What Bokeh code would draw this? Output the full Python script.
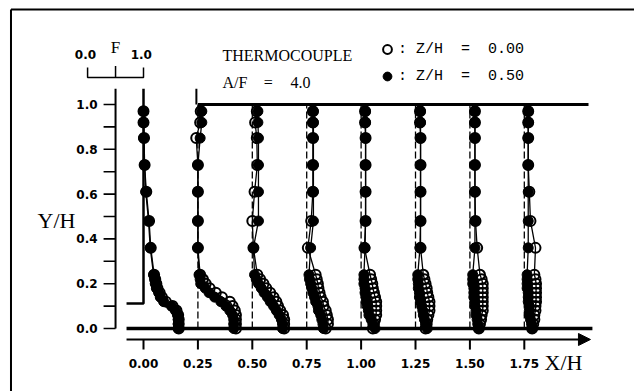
from bokeh.plotting import figure
from bokeh.models import Arrow, NormalHead, Legend, LegendItem, Range1d
from bokeh.core.properties import value
from bokeh.embed import file_html
from bokeh.resources import INLINE

# ---------------- data ----------------
stations = [0.00, 0.25, 0.50, 0.75, 1.00, 1.25, 1.50, 1.75]
xtick_labels = ["0.00", "0.25", "0.50", "0.75", "1.00", "1.25", "1.50", "1.75"]
ytick_major = [0.0, 0.2, 0.4, 0.6, 0.8, 1.0]
ytick_labels = ["0.0", "0.2", "0.4", "0.6", "0.8", "1.0"]
ytick_all = [0.0, 0.1, 0.2, 0.3, 0.4, 0.5, 0.6, 0.7, 0.8, 0.9, 1.0]

# measurement heights Y/H
y_levels = [0.97, 0.92, 0.85, 0.73, 0.61, 0.48, 0.36,
            0.24, 0.22, 0.20, 0.18, 0.16, 0.14, 0.12, 0.10, 0.08, 0.06, 0.04, 0.02, 0.00]

# F values, Z/H = 0.00 (open) and Z/H = 0.50 (filled), one list per station
f_open_000 = [0.00, 0.00, 0.01, 0.02, 0.05, 0.10, 0.13, 0.19, 0.21, 0.23, 0.25, 0.29, 0.33, 0.40, 0.52, 0.59, 0.62, 0.63, 0.63, 0.63]
f_fill_000 = [0.00, 0.00, 0.00, 0.02, 0.04, 0.09, 0.12, 0.18, 0.20, 0.21, 0.23, 0.27, 0.30, 0.36, 0.50, 0.57, 0.61, 0.62, 0.62, 0.62]
f_open_025 = [0.05, 0.04, -0.03, 0.00, 0.00, 0.00, 0.00, 0.04, 0.09, 0.14, 0.21, 0.32, 0.43, 0.57, 0.62, 0.66, 0.68, 0.68, 0.68, 0.68]
f_fill_025 = [0.07, 0.07, 0.04, 0.00, 0.00, 0.00, 0.00, 0.02, 0.04, 0.05, 0.13, 0.20, 0.30, 0.41, 0.50, 0.57, 0.62, 0.64, 0.64, 0.64]
f_open_050 = [0.08, 0.05, 0.08, 0.09, 0.04, 0.00, 0.02, 0.09, 0.14, 0.20, 0.25, 0.32, 0.38, 0.43, 0.46, 0.50, 0.55, 0.57, 0.57, 0.57]
f_fill_050 = [0.10, 0.10, 0.11, 0.11, 0.11, 0.11, 0.02, 0.04, 0.07, 0.11, 0.16, 0.21, 0.27, 0.32, 0.38, 0.43, 0.48, 0.52, 0.54, 0.54]
f_open_075 = [0.11, 0.11, 0.11, 0.11, 0.11, 0.08, 0.02, 0.16, 0.18, 0.20, 0.21, 0.23, 0.25, 0.29, 0.30, 0.34, 0.36, 0.38, 0.38, 0.34]
f_fill_075 = [0.12, 0.12, 0.12, 0.12, 0.12, 0.12, 0.07, 0.04, 0.05, 0.07, 0.09, 0.11, 0.14, 0.16, 0.20, 0.21, 0.25, 0.27, 0.29, 0.30]
f_open_100 = [0.07, 0.07, 0.08, 0.08, 0.08, 0.08, 0.06, 0.16, 0.18, 0.20, 0.21, 0.23, 0.25, 0.27, 0.27, 0.27, 0.27, 0.25, 0.23, 0.21]
f_fill_100 = [0.08, 0.08, 0.08, 0.08, 0.08, 0.08, 0.07, 0.05, 0.05, 0.05, 0.07, 0.07, 0.09, 0.09, 0.11, 0.13, 0.14, 0.18, 0.21, 0.25]
f_open_125 = [0.08, 0.08, 0.09, 0.09, 0.09, 0.09, 0.09, 0.14, 0.16, 0.18, 0.20, 0.21, 0.23, 0.25, 0.25, 0.25, 0.23, 0.21, 0.20, 0.18]
f_fill_125 = [0.09, 0.09, 0.09, 0.09, 0.09, 0.09, 0.08, 0.04, 0.04, 0.05, 0.05, 0.07, 0.07, 0.09, 0.11, 0.13, 0.14, 0.16, 0.18, 0.21]
f_open_150 = [0.09, 0.09, 0.09, 0.09, 0.09, 0.10, 0.13, 0.18, 0.21, 0.23, 0.23, 0.23, 0.23, 0.23, 0.23, 0.23, 0.21, 0.20, 0.18, 0.16]
f_fill_150 = [0.09, 0.09, 0.09, 0.09, 0.09, 0.09, 0.09, 0.05, 0.05, 0.05, 0.07, 0.07, 0.07, 0.09, 0.09, 0.11, 0.11, 0.13, 0.14, 0.16]
f_open_175 = [0.07, 0.07, 0.07, 0.07, 0.09, 0.11, 0.20, 0.18, 0.20, 0.21, 0.21, 0.21, 0.21, 0.21, 0.20, 0.20, 0.18, 0.18, 0.16, 0.14]
f_fill_175 = [0.07, 0.07, 0.07, 0.07, 0.07, 0.07, 0.07, 0.05, 0.05, 0.05, 0.05, 0.07, 0.07, 0.07, 0.09, 0.09, 0.09, 0.11, 0.13, 0.14]

f_open = [f_open_000, f_open_025, f_open_050, f_open_075, f_open_100, f_open_125, f_open_150, f_open_175]
f_fill = [f_fill_000, f_fill_025, f_fill_050, f_fill_075, f_fill_100, f_fill_125, f_fill_150, f_fill_175]

# geometry of the channel (X/H, Y/H)
floor_x = [-0.078, 2.063]
floor_y = [0.0, 0.0]
top_wall_x = [0.25, 2.045]
top_wall_y = [1.0, 1.0]
step_x = [0.243, 0.243]
step_y = [1.0, 1.07]
inlet_x = [0.0, 0.0, -0.078]
inlet_y = [1.07, 0.112, 0.112]

F_WIDTH = 0.257          # X/H length of one unit of F
f_scale_ticks = [0.0, 0.5, 1.0]

# ---------------- figure ----------------
p = figure(width=634, height=391,
           x_range=Range1d(-0.6572, 2.2564), y_range=Range1d(-0.2812, 1.4643),
           x_axis_location=None, y_axis_location=None,
           min_border=0, toolbar_location=None, output_backend="svg",
           outline_line_color=None)
p.grid.visible = False
p.background_fill_color = "white"
p.border_fill_color = "white"

K = "black"

# outer frame (top and left edges are visible)
p.line([-0.609, -0.609], [-0.5, 1.424], line_color=K, line_width=2)
p.line([-0.609, 2.5], [1.424, 1.424], line_color=K, line_width=2)

# channel walls
p.line(floor_x, floor_y, line_color=K, line_width=3.5)
p.line(top_wall_x, top_wall_y, line_color=K, line_width=3)
p.line(step_x, step_y, line_color=K, line_width=2)
p.line(inlet_x, inlet_y, line_color=K, line_width=2.5)

# dashed station lines
p.segment(x0=stations[1:], y0=[0.0] * 7, x1=stations[1:], y1=[1.0] * 7,
          line_color=K, line_width=1.3, line_dash="7 3")

# x axis with arrow
x_axis_y = -0.049
p.add_layout(Arrow(end=NormalHead(size=12, fill_color=K, line_color=K, line_width=1),
                   x_start=-0.078, y_start=x_axis_y, x_end=2.054, y_end=x_axis_y,
                   line_color=K, line_width=2))
p.segment(x0=stations, y0=[x_axis_y] * 8, x1=stations, y1=[-0.094] * 8,
          line_color=K, line_width=2)
p.text(x=stations, y=[-0.156] * 8, text=xtick_labels,
       text_font=value("DejaVu Sans"), text_font_style="bold", text_font_size="12px",
       text_align="center", text_baseline="middle", text_color=K)
p.text(x=[1.93], y=[-0.152], text=["X/H"], text_font=value("Liberation Serif"),
       text_font_size="22px", text_align="center", text_baseline="middle", text_color=K)

# y axis
y_axis_x = -F_WIDTH / 2
p.line([y_axis_x, y_axis_x], [0.0, 1.07], line_color=K, line_width=2)
p.segment(x0=[y_axis_x] * len(ytick_all), y0=ytick_all,
          x1=[y_axis_x - 0.055] * len(ytick_all), y1=ytick_all,
          line_color=K, line_width=1.6)
p.text(x=[-0.211] * 6, y=ytick_major, text=ytick_labels,
       text_font=value("DejaVu Sans"), text_font_style="bold", text_font_size="12px",
       text_align="right", text_baseline="middle", text_color=K)
p.text(x=[-0.40], y=[0.482], text=["Y/H"], text_font=value("Liberation Serif"),
       text_font_size="22px", text_align="center", text_baseline="middle", text_color=K)

# F scale bracket
fx = [-F_WIDTH + t * F_WIDTH for t in f_scale_ticks]
p.line([fx[0], fx[0], fx[2], fx[2]], [1.165, 1.12, 1.12, 1.165], line_color=K, line_width=1.5)
p.segment(x0=[fx[1]], y0=[1.12], x1=[fx[1]], y1=[1.172], line_color=K, line_width=1.5)
p.text(x=[fx[0] - 0.01, fx[2] - 0.01], y=[1.223, 1.223], text=["0.0", "1.0"],
       text_font=value("DejaVu Sans"), text_font_style="bold", text_font_size="12px",
       text_align="center", text_baseline="middle", text_color=K)
p.text(x=[fx[1]], y=[1.254], text=["F"], text_font=value("Liberation Serif"),
       text_font_size="17px", text_align="center", text_baseline="middle", text_color=K)

# annotation text
p.text(x=[0.363], y=[1.219], text=["THERMOCOUPLE"], text_font=value("Liberation Serif"),
       text_font_size="16px", text_align="left", text_baseline="middle", text_color=K)
p.text(x=[0.363, 0.553, 0.676], y=[1.098] * 3, text=["A/F", "=", "4.0"],
       text_font=value("Liberation Serif"), text_font_size="16px",
       text_align="left", text_baseline="middle", text_color=K)

# profiles
open_renderers = []
fill_renderers = []
for s, fo, ff in zip(stations, f_open, f_fill):
    xo = [s + v * F_WIDTH for v in fo]
    xf = [s + v * F_WIDTH for v in ff]
    p.line(xo, y_levels, line_color=K, line_width=1.3)
    p.line(xf, y_levels, line_color=K, line_width=1.3)
    rf = p.scatter(xf, y_levels, marker="circle", size=10, fill_color=K,
                   line_color=K, line_width=1)
    ro = p.scatter(xo, y_levels, marker="circle", size=10, fill_color=None,
                   line_color=K, line_width=2)
    open_renderers.append(ro)
    fill_renderers.append(rf)

legend = Legend(items=[LegendItem(label=": Z/H  =  0.00", renderers=[open_renderers[0]]),
                       LegendItem(label=": Z/H  =  0.50", renderers=[fill_renderers[0]])],
                location=(376, 304), orientation="vertical",
                glyph_width=22, glyph_height=22, label_height=22, spacing=5,
                padding=0, margin=0, label_standoff=0,
                border_line_color=None, background_fill_alpha=0,
                label_text_font="Liberation Mono", label_text_font_size="15px",
                label_text_color=K)
p.add_layout(legend)

open("out.html", "w").write(file_html(p, INLINE))
